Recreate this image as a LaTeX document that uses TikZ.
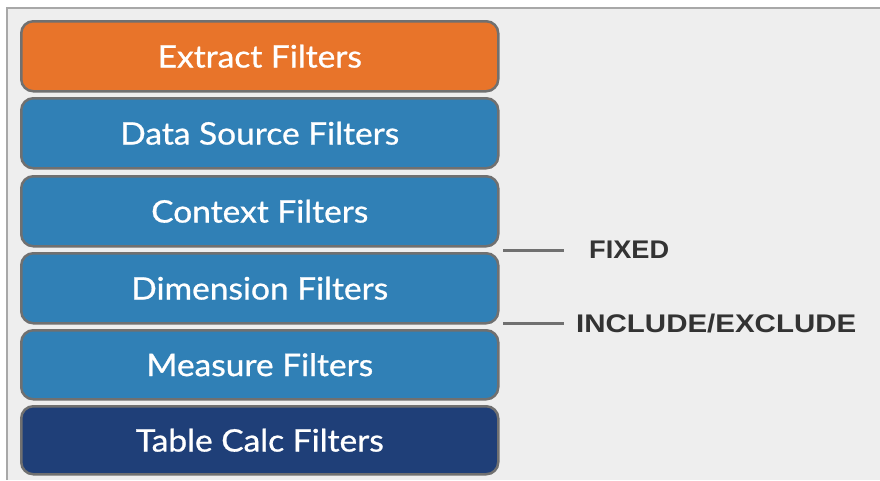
\documentclass[tikz,border=0pt]{standalone}
\usepackage{fontspec}
\setmainfont{Lato}
\newfontfamily\boxfont{Lato}[FakeBold=0.8]
\newfontfamily\labelfont{Liberation Sans}
\definecolor{bgc}{HTML}{EEEEEE}
\definecolor{framec}{HTML}{A8A8A8}
\definecolor{edgec}{HTML}{707070}
\definecolor{orangec}{HTML}{E8742A}
\definecolor{bluec}{HTML}{3080B6}
\definecolor{navyc}{HTML}{1F3F78}
\definecolor{textc}{HTML}{333333}
\newcommand{\boxtxt}[1]{\scalebox{1.08}[1]{#1}}
\tikzset{
  filterbox/.style={draw=edgec, line width=2.5pt, rounded corners=12pt,
    minimum width=477pt, minimum height=70pt, inner sep=0pt,
    text=white, font=\boxfont\fontsize{31}{36}\selectfont, anchor=north west},
  tag/.style={text=textc, inner sep=0pt, anchor=west,
    font=\labelfont\bfseries\fontsize{25.5}{30}\selectfont},
  leader/.style={draw=edgec, line width=3pt}
}
\begin{document}
\begin{tikzpicture}[x=1pt,y=-1pt]
\useasboundingbox (0,0) rectangle (880,480);
\fill[white] (0,0) rectangle (880,480);
\fill[bgc] (7,8) rectangle (880,480);
\draw[framec, line width=2pt] (7,480) -- (7,8) -- (880,8);
\node[filterbox, fill=orangec] (extract) at (20,20) {\boxtxt{Extract Filters}};
\node[filterbox, fill=bluec] (datasrc) at (20,97) {\boxtxt{Data Source Filters}};
\node[filterbox, fill=bluec] (context) at (20,175) {\boxtxt{Context Filters}};
\node[filterbox, fill=bluec] (dimension) at (20,252) {\boxtxt{Dimension Filters}};
\node[filterbox, fill=bluec, minimum height=69pt] (measure) at (20,329) {\boxtxt{Measure Filters}};
\node[filterbox, fill=navyc, minimum height=68pt] (tablecalc) at (20,405) {\boxtxt{Table Calc Filters}};
\node[tag] (fixed) at (589,250) {\scalebox{1.065}[1]{FIXED}};
\node[tag] (incl) at (576,323.5) {\scalebox{1.156}[1]{INCLUDE/EXCLUDE}};
\coordinate (fixedstart) at (503,250);
\coordinate (inclstart) at (503,323);
\draw[leader, shorten >=25pt] (fixedstart) -- (fixedstart -| fixed.west);
\draw[leader, shorten >=12pt] (inclstart) -- (inclstart -| incl.west);
\end{tikzpicture}
\end{document}
